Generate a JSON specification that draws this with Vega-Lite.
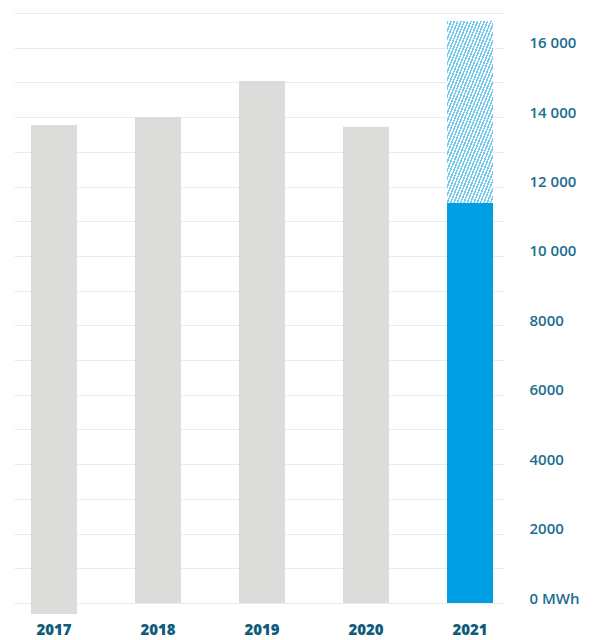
{
  "$schema": "https://vega.github.io/schema/vega-lite/v6.json",
  "width": 490,
  "height": 590,
  "autosize": {"type": "none"},
  "padding": {"left": 14, "top": 13, "right": 96, "bottom": 37},
  "background": "white",
  "config": {"view": {"stroke": null}},
  "data": {
    "values": [
      {"year": "2017", "start": -320, "end": 13770, "part": "recorded"},
      {"year": "2018", "start": 0, "end": 14000, "part": "recorded"},
      {"year": "2019", "start": 0, "end": 15040, "part": "recorded"},
      {"year": "2020", "start": 0, "end": 13720, "part": "recorded"},
      {"year": "2021", "start": 0, "end": 11530, "part": "current"},
      {"year": "2021", "start": 11530, "end": 16770, "part": "projected"}
    ]
  },
  "encoding": {
    "x": {
      "field": "year",
      "type": "ordinal",
      "scale": {"paddingInner": 0.558, "paddingOuter": 0.1346, "align": 0.607},
      "axis": {
        "title": null,
        "domain": false,
        "ticks": false,
        "grid": false,
        "labelAngle": 0,
        "labelPadding": 31,
        "labelBaseline": "alphabetic",
        "labelFont": "Open Sans",
        "labelFontSize": 15,
        "labelFontWeight": 800,
        "labelColor": "#0f5c7d"
      }
    },
    "y": {
      "field": "end",
      "type": "quantitative",
      "scale": {"domain": [0, 17000], "nice": false, "zero": false},
      "axis": {
        "title": null,
        "orient": "right",
        "values": [0, 1000, 2000, 3000, 4000, 5000, 6000, 7000, 8000, 9000, 10000, 11000, 12000, 13000, 14000, 15000, 16000, 17000],
        "domain": false,
        "ticks": false,
        "grid": true,
        "gridColor": "#ebebeb",
        "gridWidth": 1,
        "labelPadding": 25,
        "labelBaseline": "alphabetic",
        "labelFlush": false,
        "labelOverlap": false,
        "labelFont": "Open Sans",
        "labelFontSize": 15,
        "labelFontWeight": 600,
        "labelColor": "#1c6e90",
        "labelExpr": "datum.value == 0 ? '0 MWh' : datum.value % 2000 != 0 ? '' : datum.value >= 10000 ? floor(datum.value / 1000) + ' 000' : '' + datum.value"
      }
    },
    "y2": {"field": "start"}
  },
  "layer": [
    {
      "transform": [{"filter": "datum.part != 'projected'"}],
      "mark": {"type": "bar"},
      "encoding": {
        "color": {
          "field": "part",
          "type": "nominal",
          "scale": {"domain": ["recorded", "current"], "range": ["#dcdcdb", "#009fe3"]},
          "legend": null
        }
      }
    },
    {
      "transform": [{"filter": "datum.part == 'projected'"}],
      "mark": {
        "type": "bar",
        "fill": {
          "gradient": "linear",
          "x1": 0, "y1": 0, "x2": 0.73, "y2": 1.168,
          "stops": [
            {"offset": 0, "color": "#74c9ef"}, {"offset": 0.013889, "color": "#74c9ef"}, {"offset": 0.013889, "color": "#ffffff"}, {"offset": 0.027778, "color": "#ffffff"},
            {"offset": 0.027778, "color": "#74c9ef"}, {"offset": 0.041667, "color": "#74c9ef"}, {"offset": 0.041667, "color": "#ffffff"}, {"offset": 0.055556, "color": "#ffffff"},
            {"offset": 0.055556, "color": "#74c9ef"}, {"offset": 0.069444, "color": "#74c9ef"}, {"offset": 0.069444, "color": "#ffffff"}, {"offset": 0.083333, "color": "#ffffff"},
            {"offset": 0.083333, "color": "#74c9ef"}, {"offset": 0.097222, "color": "#74c9ef"}, {"offset": 0.097222, "color": "#ffffff"}, {"offset": 0.111111, "color": "#ffffff"},
            {"offset": 0.111111, "color": "#74c9ef"}, {"offset": 0.125, "color": "#74c9ef"}, {"offset": 0.125, "color": "#ffffff"}, {"offset": 0.138889, "color": "#ffffff"},
            {"offset": 0.138889, "color": "#74c9ef"}, {"offset": 0.152778, "color": "#74c9ef"}, {"offset": 0.152778, "color": "#ffffff"}, {"offset": 0.166667, "color": "#ffffff"},
            {"offset": 0.166667, "color": "#74c9ef"}, {"offset": 0.180556, "color": "#74c9ef"}, {"offset": 0.180556, "color": "#ffffff"}, {"offset": 0.194444, "color": "#ffffff"},
            {"offset": 0.194444, "color": "#74c9ef"}, {"offset": 0.208333, "color": "#74c9ef"}, {"offset": 0.208333, "color": "#ffffff"}, {"offset": 0.222222, "color": "#ffffff"},
            {"offset": 0.222222, "color": "#74c9ef"}, {"offset": 0.236111, "color": "#74c9ef"}, {"offset": 0.236111, "color": "#ffffff"}, {"offset": 0.25, "color": "#ffffff"},
            {"offset": 0.25, "color": "#74c9ef"}, {"offset": 0.263889, "color": "#74c9ef"}, {"offset": 0.263889, "color": "#ffffff"}, {"offset": 0.277778, "color": "#ffffff"},
            {"offset": 0.277778, "color": "#74c9ef"}, {"offset": 0.291667, "color": "#74c9ef"}, {"offset": 0.291667, "color": "#ffffff"}, {"offset": 0.305556, "color": "#ffffff"},
            {"offset": 0.305556, "color": "#74c9ef"}, {"offset": 0.319444, "color": "#74c9ef"}, {"offset": 0.319444, "color": "#ffffff"}, {"offset": 0.333333, "color": "#ffffff"},
            {"offset": 0.333333, "color": "#74c9ef"}, {"offset": 0.347222, "color": "#74c9ef"}, {"offset": 0.347222, "color": "#ffffff"}, {"offset": 0.361111, "color": "#ffffff"},
            {"offset": 0.361111, "color": "#74c9ef"}, {"offset": 0.375, "color": "#74c9ef"}, {"offset": 0.375, "color": "#ffffff"}, {"offset": 0.388889, "color": "#ffffff"},
            {"offset": 0.388889, "color": "#74c9ef"}, {"offset": 0.402778, "color": "#74c9ef"}, {"offset": 0.402778, "color": "#ffffff"}, {"offset": 0.416667, "color": "#ffffff"},
            {"offset": 0.416667, "color": "#74c9ef"}, {"offset": 0.430556, "color": "#74c9ef"}, {"offset": 0.430556, "color": "#ffffff"}, {"offset": 0.444444, "color": "#ffffff"},
            {"offset": 0.444444, "color": "#74c9ef"}, {"offset": 0.458333, "color": "#74c9ef"}, {"offset": 0.458333, "color": "#ffffff"}, {"offset": 0.472222, "color": "#ffffff"},
            {"offset": 0.472222, "color": "#74c9ef"}, {"offset": 0.486111, "color": "#74c9ef"}, {"offset": 0.486111, "color": "#ffffff"}, {"offset": 0.5, "color": "#ffffff"},
            {"offset": 0.5, "color": "#74c9ef"}, {"offset": 0.513889, "color": "#74c9ef"}, {"offset": 0.513889, "color": "#ffffff"}, {"offset": 0.527778, "color": "#ffffff"},
            {"offset": 0.527778, "color": "#74c9ef"}, {"offset": 0.541667, "color": "#74c9ef"}, {"offset": 0.541667, "color": "#ffffff"}, {"offset": 0.555556, "color": "#ffffff"},
            {"offset": 0.555556, "color": "#74c9ef"}, {"offset": 0.569444, "color": "#74c9ef"}, {"offset": 0.569444, "color": "#ffffff"}, {"offset": 0.583333, "color": "#ffffff"},
            {"offset": 0.583333, "color": "#74c9ef"}, {"offset": 0.597222, "color": "#74c9ef"}, {"offset": 0.597222, "color": "#ffffff"}, {"offset": 0.611111, "color": "#ffffff"},
            {"offset": 0.611111, "color": "#74c9ef"}, {"offset": 0.625, "color": "#74c9ef"}, {"offset": 0.625, "color": "#ffffff"}, {"offset": 0.638889, "color": "#ffffff"},
            {"offset": 0.638889, "color": "#74c9ef"}, {"offset": 0.652778, "color": "#74c9ef"}, {"offset": 0.652778, "color": "#ffffff"}, {"offset": 0.666667, "color": "#ffffff"},
            {"offset": 0.666667, "color": "#74c9ef"}, {"offset": 0.680556, "color": "#74c9ef"}, {"offset": 0.680556, "color": "#ffffff"}, {"offset": 0.694444, "color": "#ffffff"},
            {"offset": 0.694444, "color": "#74c9ef"}, {"offset": 0.708333, "color": "#74c9ef"}, {"offset": 0.708333, "color": "#ffffff"}, {"offset": 0.722222, "color": "#ffffff"},
            {"offset": 0.722222, "color": "#74c9ef"}, {"offset": 0.736111, "color": "#74c9ef"}, {"offset": 0.736111, "color": "#ffffff"}, {"offset": 0.75, "color": "#ffffff"},
            {"offset": 0.75, "color": "#74c9ef"}, {"offset": 0.763889, "color": "#74c9ef"}, {"offset": 0.763889, "color": "#ffffff"}, {"offset": 0.777778, "color": "#ffffff"},
            {"offset": 0.777778, "color": "#74c9ef"}, {"offset": 0.791667, "color": "#74c9ef"}, {"offset": 0.791667, "color": "#ffffff"}, {"offset": 0.805556, "color": "#ffffff"},
            {"offset": 0.805556, "color": "#74c9ef"}, {"offset": 0.819444, "color": "#74c9ef"}, {"offset": 0.819444, "color": "#ffffff"}, {"offset": 0.833333, "color": "#ffffff"},
            {"offset": 0.833333, "color": "#74c9ef"}, {"offset": 0.847222, "color": "#74c9ef"}, {"offset": 0.847222, "color": "#ffffff"}, {"offset": 0.861111, "color": "#ffffff"},
            {"offset": 0.861111, "color": "#74c9ef"}, {"offset": 0.875, "color": "#74c9ef"}, {"offset": 0.875, "color": "#ffffff"}, {"offset": 0.888889, "color": "#ffffff"},
            {"offset": 0.888889, "color": "#74c9ef"}, {"offset": 0.902778, "color": "#74c9ef"}, {"offset": 0.902778, "color": "#ffffff"}, {"offset": 0.916667, "color": "#ffffff"},
            {"offset": 0.916667, "color": "#74c9ef"}, {"offset": 0.930556, "color": "#74c9ef"}, {"offset": 0.930556, "color": "#ffffff"}, {"offset": 0.944444, "color": "#ffffff"},
            {"offset": 0.944444, "color": "#74c9ef"}, {"offset": 0.958333, "color": "#74c9ef"}, {"offset": 0.958333, "color": "#ffffff"}, {"offset": 0.972222, "color": "#ffffff"},
            {"offset": 0.972222, "color": "#74c9ef"}, {"offset": 0.986111, "color": "#74c9ef"}, {"offset": 0.986111, "color": "#ffffff"}, {"offset": 1, "color": "#ffffff"}
          ]
        }
      }
    }
  ]
}
